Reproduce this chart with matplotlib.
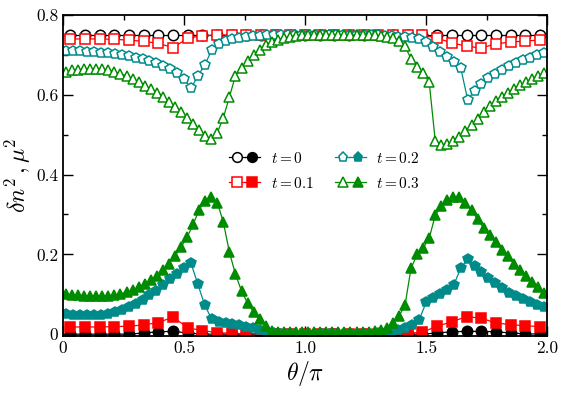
import numpy as np
import matplotlib
matplotlib.use("Agg")
import matplotlib.pyplot as plt
from matplotlib.lines import Line2D
from matplotlib.legend_handler import HandlerTuple
from matplotlib.ticker import MultipleLocator, FixedLocator

plt.rcParams['font.family'] = 'serif'
plt.rcParams['font.serif'] = ['cmr10', 'DejaVu Serif']
plt.rcParams['mathtext.fontset'] = 'cm'
plt.rcParams['axes.formatter.use_mathtext'] = True

# sample positions (theta/pi)
theta_a = np.linspace(1 / 33, 65 / 33, 33)
theta_b = np.linspace(1 / 70, 139 / 70, 70)
theta_c = np.linspace(1 / 80, 159 / 80, 80)

# t = 0
circ_open = [0.750] * 33
circ_fill = [0.0, 0.0, 0.0, 0.0, 0.0, 0.003, 0.006, 0.007, 0.003, 0.0,
             0.0, 0.0, 0.0, 0.0, 0.0, 0.0, 0.0, 0.0, 0.0, 0.0,
             0.0, 0.0, 0.0, 0.0, 0.0, 0.003, 0.006, 0.007, 0.007, 0.006,
             0.003, 0.001, 0.0]

# t = 0.1
sq_open = [0.740, 0.740, 0.740, 0.739, 0.737, 0.734, 0.729, 0.718, 0.742, 0.748,
           0.750, 0.750, 0.750, 0.750, 0.750, 0.750, 0.750, 0.750, 0.750, 0.750,
           0.750, 0.750, 0.750, 0.750, 0.750, 0.742, 0.730, 0.722, 0.717, 0.728,
           0.732, 0.735, 0.737]
sq_fill = [0.018, 0.018, 0.018, 0.019, 0.020, 0.023, 0.029, 0.043, 0.016, 0.009,
           0.004, 0.002, 0.001, 0.001, 0.001, 0.001, 0.001, 0.001, 0.001, 0.001,
           0.001, 0.001, 0.001, 0.002, 0.005, 0.020, 0.031, 0.044, 0.040, 0.028,
           0.024, 0.021, 0.019]

# t = 0.2
pent_open = [0.710, 0.710, 0.709, 0.708, 0.707, 0.706, 0.704, 0.702, 0.699, 0.696,
             0.693, 0.689, 0.684, 0.679, 0.673, 0.665, 0.655, 0.640, 0.617, 0.647,
             0.675, 0.712, 0.727, 0.735, 0.740, 0.743, 0.745, 0.747, 0.748, 0.749,
             0.750, 0.750, 0.750, 0.750, 0.750, 0.750, 0.750, 0.750, 0.750, 0.750,
             0.750, 0.750, 0.750, 0.750, 0.750, 0.749, 0.748, 0.747, 0.746, 0.745,
             0.743, 0.739, 0.732, 0.720, 0.708, 0.694, 0.682, 0.667, 0.588, 0.610,
             0.627, 0.641, 0.652, 0.663, 0.672, 0.680, 0.687, 0.693, 0.699, 0.704]
pent_fill = [0.050, 0.049, 0.048, 0.048, 0.048, 0.049, 0.051, 0.055, 0.060, 0.067,
             0.076, 0.086, 0.097, 0.109, 0.122, 0.137, 0.152, 0.166, 0.178, 0.125,
             0.072, 0.038, 0.031, 0.028, 0.025, 0.022, 0.019, 0.015, 0.010, 0.004,
             0.002, 0.001, 0.001, 0.001, 0.001, 0.001, 0.001, 0.001, 0.001, 0.001,
             0.001, 0.001, 0.001, 0.001, 0.001, 0.002, 0.004, 0.007, 0.011, 0.016,
             0.024, 0.036, 0.080, 0.090, 0.100, 0.111, 0.124, 0.165, 0.189, 0.170,
             0.155, 0.140, 0.127, 0.115, 0.104, 0.095, 0.087, 0.080, 0.074, 0.068]

# t = 0.3
tri_open = [0.658, 0.661, 0.663, 0.664, 0.665, 0.665, 0.664, 0.662, 0.658, 0.653,
            0.647, 0.640, 0.632, 0.623, 0.614, 0.604, 0.594, 0.582, 0.570, 0.556,
            0.542, 0.527, 0.511, 0.497, 0.488, 0.505, 0.543, 0.595, 0.648, 0.668,
            0.684, 0.700, 0.713, 0.724, 0.732, 0.738, 0.743, 0.746, 0.748, 0.749,
            0.750, 0.750, 0.750, 0.750, 0.750, 0.750, 0.750, 0.750, 0.750, 0.750,
            0.750, 0.749, 0.748, 0.746, 0.743, 0.736, 0.722, 0.690, 0.670, 0.654,
            0.632, 0.485, 0.475, 0.476, 0.484, 0.494, 0.508, 0.524, 0.540, 0.556,
            0.571, 0.584, 0.594, 0.605, 0.615, 0.624, 0.632, 0.640, 0.647, 0.655]
tri_fill = [0.100, 0.099, 0.097, 0.096, 0.095, 0.095, 0.095, 0.096, 0.098, 0.101,
            0.105, 0.110, 0.117, 0.125, 0.135, 0.147, 0.161, 0.177, 0.196, 0.218,
            0.243, 0.275, 0.312, 0.335, 0.343, 0.330, 0.280, 0.205, 0.150, 0.108,
            0.078, 0.055, 0.037, 0.020, 0.008, 0.006, 0.005, 0.005, 0.005, 0.005,
            0.005, 0.005, 0.005, 0.005, 0.005, 0.005, 0.005, 0.005, 0.005, 0.005,
            0.006, 0.008, 0.011, 0.016, 0.028, 0.045, 0.072, 0.165, 0.200, 0.216,
            0.240, 0.298, 0.322, 0.337, 0.345, 0.345, 0.330, 0.310, 0.288, 0.266,
            0.248, 0.230, 0.212, 0.195, 0.177, 0.160, 0.145, 0.130, 0.117, 0.104]

labels = [r'$t=0$', r'$t=0.1$', r'$t=0.2$', r'$t=0.3$']

series = [
    (theta_a, circ_open, circ_fill, 'black', 'o', 7.5),
    (theta_a, sq_open, sq_fill, '#ff0000', 's', 7.5),
    (theta_b, pent_open, pent_fill, '#008b8b', 'p', 7.0),
    (theta_c, tri_open, tri_fill, '#008c00', '^', 7.5),
]

fig = plt.figure(figsize=(5.65, 3.95), dpi=100)
ax = fig.add_axes([0.1115, 0.149, 0.857, 0.813])

handles = []
for x, yo, yf, c, m, ms in series:
    ax.plot(x, yo, '-', color=c, lw=0.9, marker=m, ms=ms, mfc='white',
            mec=c, mew=1.1)
    ax.plot(x, yf, '-', color=c, lw=0.9, marker=m, ms=ms, mfc=c,
            mec=c, mew=1.1)
    lo = Line2D([], [], color=c, lw=0.9, marker=m, ms=ms - 0.5, mfc='white', mec=c, mew=1.1)
    lf = Line2D([], [], color=c, lw=0.9, marker=m, ms=ms - 0.5, mfc=c, mec=c, mew=1.1)
    handles.append((lo, lf))

ax.legend(handles, labels, handler_map={tuple: HandlerTuple(ndivide=None, pad=0.0)},
          ncol=2, frameon=False, loc='upper left', bbox_to_anchor=(0.315, 0.62),
          handlelength=2.0, handletextpad=0.7, columnspacing=1.4, numpoints=1,
          fontsize=11, labelspacing=0.65)

ax.set_xlim(0, 2.0)
ax.set_ylim(-0.005, 0.8)
ax.xaxis.set_major_locator(FixedLocator([0, 0.5, 1.0, 1.5, 2.0]))
ax.set_xticklabels(['0', '0.5', '1.0', '1.5', '2.0'])
ax.xaxis.set_minor_locator(MultipleLocator(0.25))
ax.yaxis.set_major_locator(FixedLocator([0, 0.2, 0.4, 0.6, 0.8]))
ax.set_yticklabels(['0', '0.2', '0.4', '0.6', '0.8'])
ax.yaxis.set_minor_locator(MultipleLocator(0.1))
ax.tick_params(which='both', direction='in', top=True, right=True, labelsize=12.5)
ax.tick_params(which='major', length=7, width=1.0)
ax.tick_params(which='minor', length=3.5, width=1.0)
for s in ax.spines.values():
    s.set_linewidth(1.3)

ax.set_xlabel(r'$\theta/\pi$', fontsize=17, labelpad=2)
ax.set_ylabel(r'$\delta n^2\,,\mu^2$', fontsize=17, labelpad=2)

fig.savefig('out.png', dpi=100)
